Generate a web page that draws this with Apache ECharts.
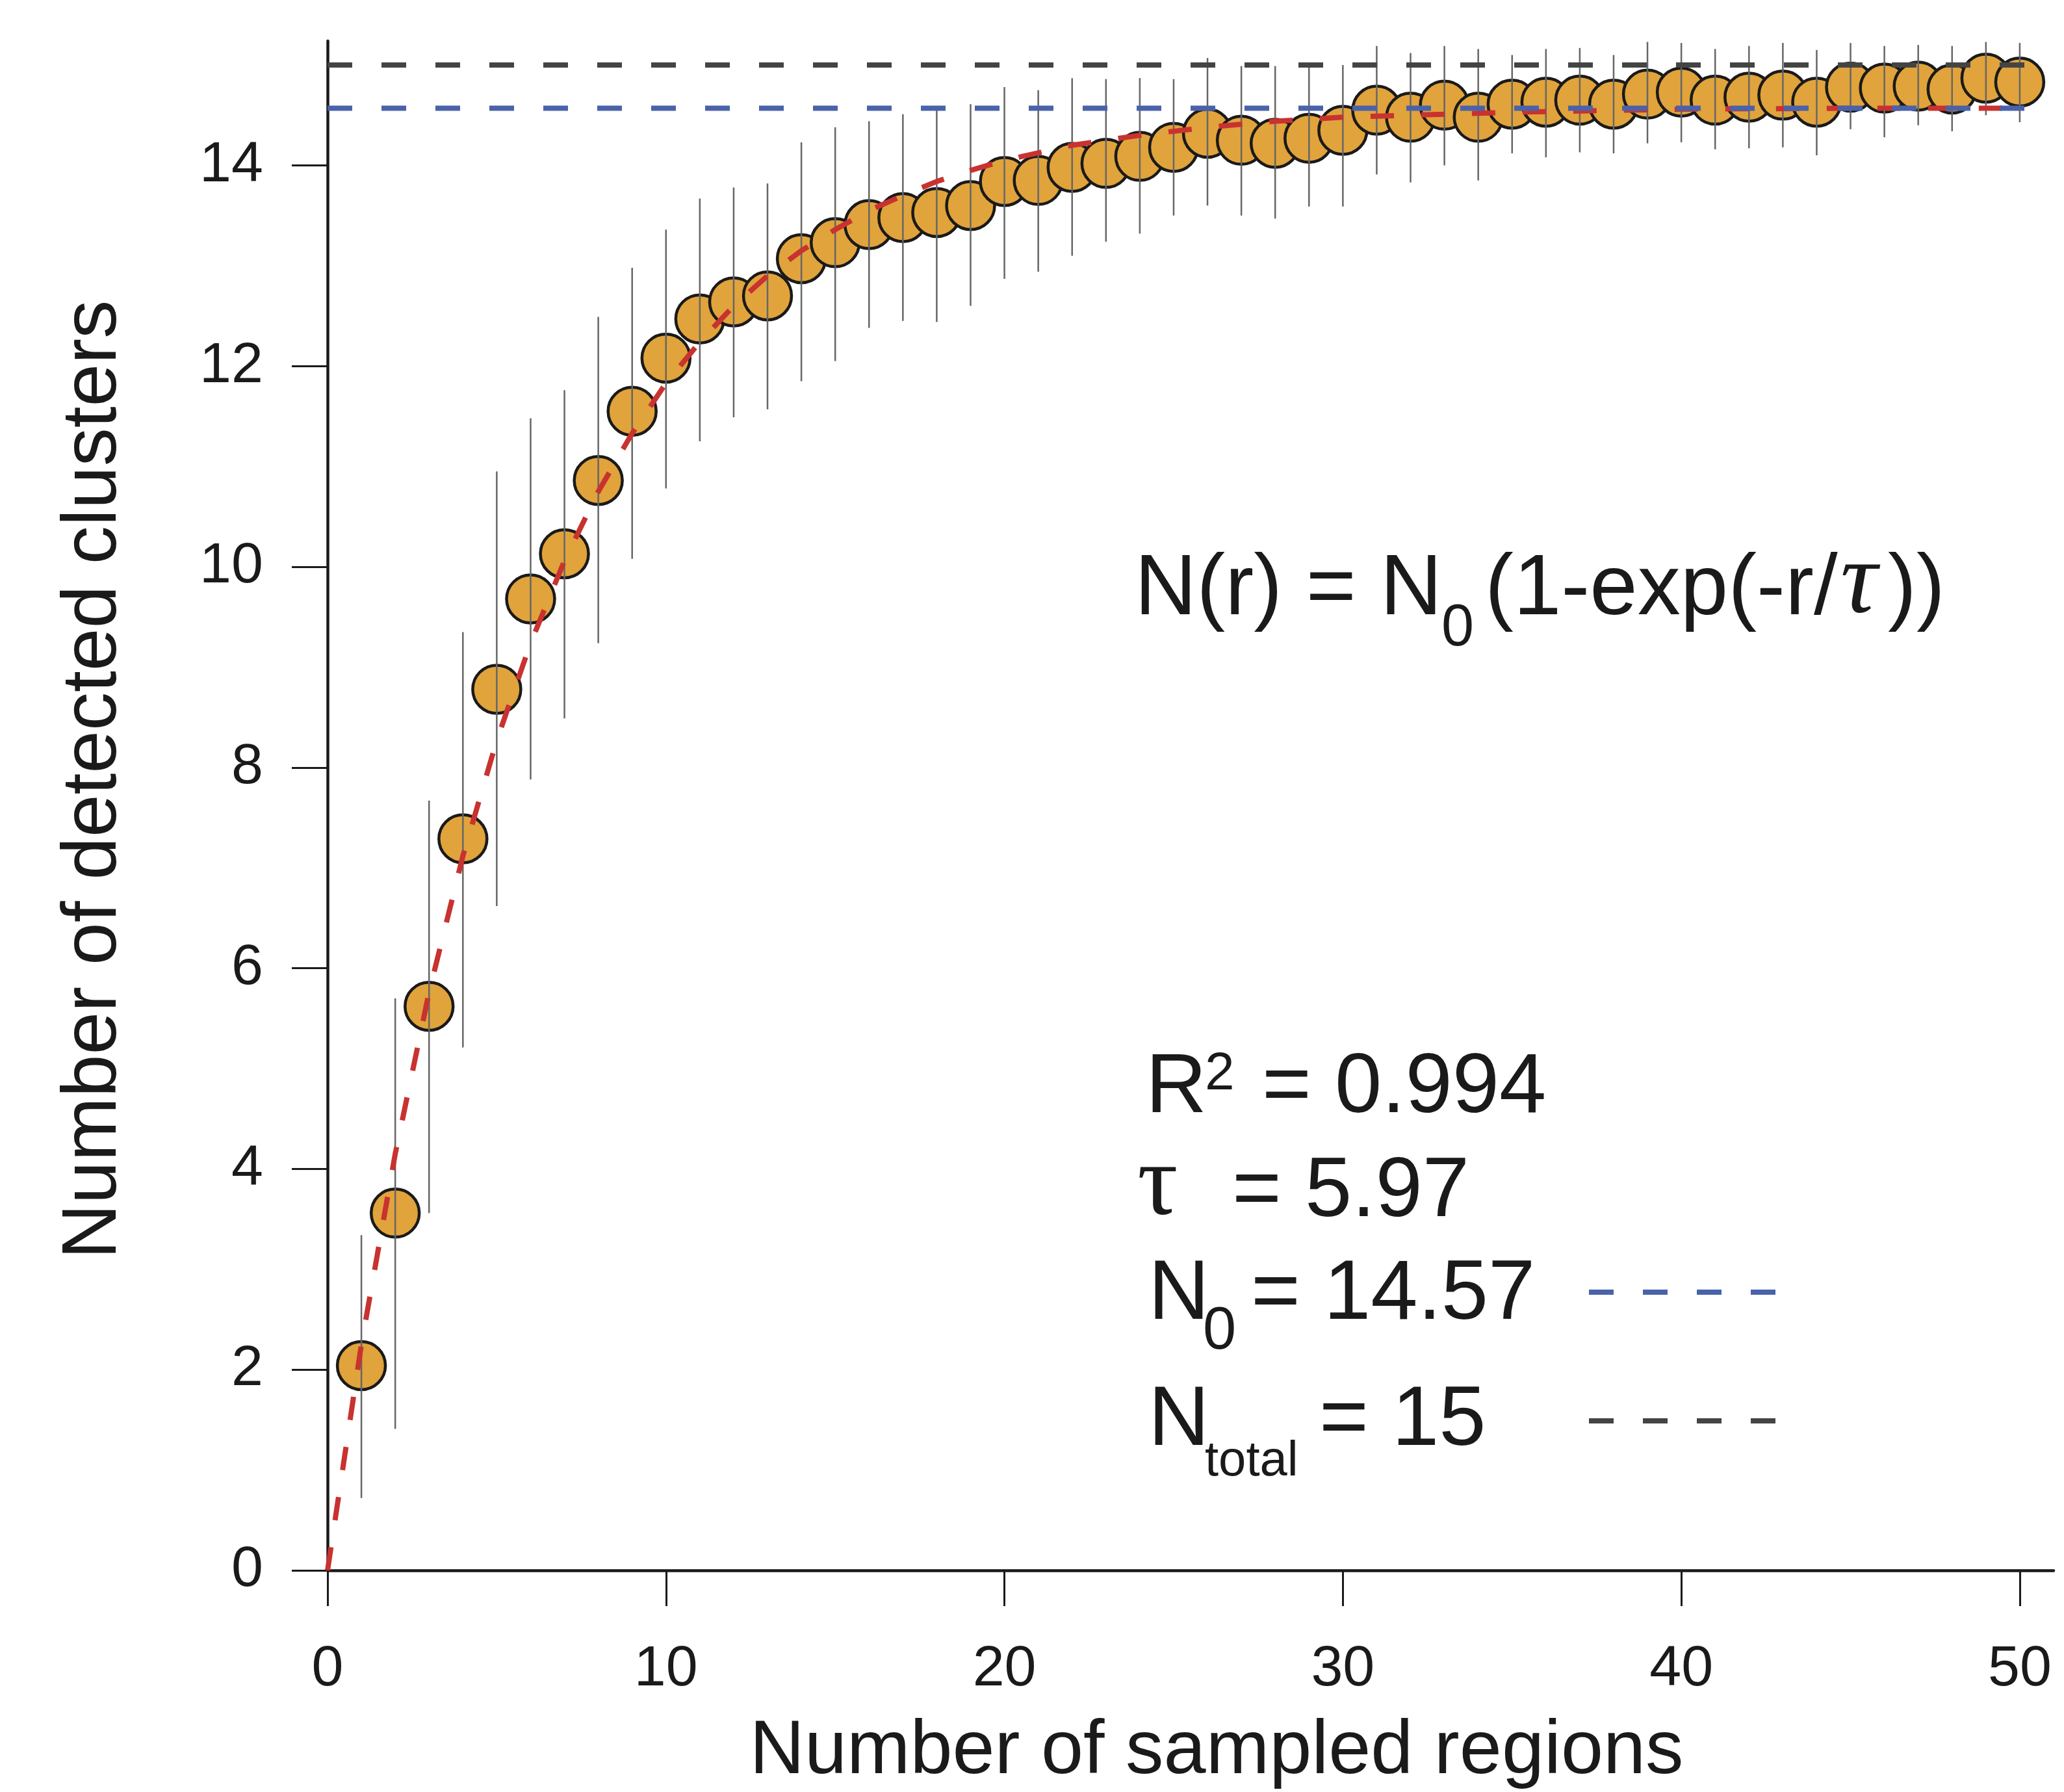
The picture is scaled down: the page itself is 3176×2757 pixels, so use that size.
<!DOCTYPE html>
<html><head><meta charset="utf-8">
<script src="https://cdn.jsdelivr.net/npm/echarts@6/dist/echarts.min.js"></script>
<style>html,body{margin:0;padding:0;background:#fff}#chart{width:3176px;height:2757px}</style>
</head><body><div id="chart"></div>
<script>
// ---------- data ----------
const regions = [1,2,3,4,5,6,7,8,9,10,11,12,13,14,15,16,17,18,19,20,21,22,23,24,25,26,27,28,29,30,31,32,33,34,35,36,37,38,39,40,41,42,43,44,45,46,47,48,49,50];
const meanClusters = [2.04,3.56,5.62,7.29,8.78,9.68,10.13,10.86,11.55,12.08,12.47,12.64,12.70,13.07,13.23,13.41,13.48,13.53,13.60,13.84,13.85,13.98,14.02,14.09,14.18,14.32,14.25,14.22,14.27,14.35,14.55,14.48,14.60,14.48,14.61,14.63,14.65,14.61,14.71,14.73,14.65,14.68,14.70,14.63,14.78,14.77,14.79,14.76,14.87,14.83];
const errUpper = [3.34,5.70,7.67,9.35,10.95,11.48,11.76,12.49,12.98,13.36,13.67,13.78,13.82,14.23,14.38,14.44,14.51,14.55,14.61,14.78,14.75,14.87,14.86,14.87,14.86,15.07,14.99,14.99,14.98,15.00,15.19,15.12,15.19,15.16,15.10,15.16,15.17,15.10,15.23,15.22,15.16,15.19,15.22,15.15,15.22,15.19,15.20,15.19,15.23,15.22];
const errLower = [0.72,1.41,3.56,5.21,6.62,7.88,8.49,9.24,10.08,10.78,11.25,11.49,11.57,11.85,12.05,12.38,12.45,12.44,12.60,12.87,12.94,13.10,13.24,13.32,13.50,13.60,13.50,13.47,13.59,13.59,13.91,13.83,14.00,13.85,14.12,14.08,14.13,14.12,14.22,14.23,14.16,14.17,14.18,14.10,14.36,14.28,14.40,14.34,14.50,14.43];
// fitted curve
const fitR = [0,1,2,3,4,5,6,7,8,9,10,11,12,13,14,15,16,17,18,19,20,22,24,26,28,30,35,40,45,50];
const fitN = [0,2.25,4.15,5.76,7.12,8.27,9.24,10.06,10.75,11.33,11.83,12.24,12.60,12.90,13.15,13.36,13.55,13.70,13.84,13.95,14.05,14.20,14.30,14.38,14.44,14.48,14.53,14.56,14.57,14.57];
const N0 = 14.57;
const Ntotal = 15;
const xTicks = [0,10,20,30,40,50];
const yTicks = [0,2,4,6,8,10,12,14];
const xTitle = 'Number of sampled regions';
const yTitle = 'Number of detected clusters';

// ---------- chart ----------
const FONT = 'Liberation Sans, Arial, Helvetica, sans-serif';
const SERIF = 'Liberation Serif, DejaVu Serif, serif';
const INK = '#1a1a1a';
const K = 0.33; // baseline offset for middle alignment

function txt(x, baseline, text, fs, extra) {
  extra = extra || {};
  return {
    type: 'text', x: x, y: baseline - K * fs, z: 100,
    style: Object.assign({
      text: text, fontSize: fs, fontFamily: FONT, fill: INK,
      align: 'left', verticalAlign: 'middle'
    }, extra)
  };
}

const chart = echarts.init(document.getElementById('chart'), null, {renderer: 'canvas'});

const scatterData = regions.map((r, i) => [r, meanClusters[i]]);
const errData = regions.map((r, i) => [r, errLower[i], errUpper[i]]);
const fitData = fitR.map((r, i) => [r, fitN[i]]);

const graphics = [
  // formula
  txt(1746, 952, 'N(r) = N', 132),
  txt(2218, 998, '0', 90),
  txt(2285, 952, '(1-exp(-r/', 132),
  txt(2832, 952, 'τ', 158, {fontFamily: SERIF, fontStyle: 'italic'}),
  txt(2905, 952, '))', 132),
  // stats
  txt(1763, 1718, 'R', 130),
  txt(1854, 1680, '2', 82),
  txt(1942, 1718, '= 0.994', 130),
  txt(1750, 1878, 'τ', 156, {fontFamily: SERIF}),
  txt(1896, 1878, '= 5.97', 130),
  txt(1767, 2036, 'N', 130),
  txt(1851, 2080, '0', 92),
  txt(1925, 2036, '= 14.57', 130),
  txt(1767, 2230, 'N', 130),
  txt(1854, 2274, 'total', 76),
  txt(2030, 2230, '= 15', 130),
  // legend keys
  {type: 'line', z: 100, shape: {x1: 2445, y1: 1988, x2: 2736, y2: 1988},
   style: {stroke: '#4A62AA', lineWidth: 8, lineDash: [38, 45]}},
  {type: 'line', z: 100, shape: {x1: 2445, y1: 2186, x2: 2736, y2: 2186},
   style: {stroke: '#444444', lineWidth: 8, lineDash: [38, 45]}}
];

const option = {
  animation: false,
  backgroundColor: '#ffffff',
  grid: {left: 504, right: 16, top: 63, bottom: 341, containLabel: false, outerBoundsMode: 'none'},
  xAxis: {
    type: 'value', min: 0, max: 51, interval: 10,
    name: xTitle, nameLocation: 'middle', nameGap: 221,
    nameTextStyle: {fontSize: 117, fontFamily: FONT, color: INK, padding: [0, 0, 0, 80]},
    axisLine: {show: true, onZero: false, lineStyle: {color: INK, width: 4.5}},
    axisTick: {show: true, inside: false, length: 55, customValues: xTicks, lineStyle: {color: INK, width: 3}},
    axisLabel: {customValues: xTicks, margin: 109, fontSize: 88, fontFamily: FONT, color: INK},
    splitLine: {show: false}
  },
  yAxis: {
    type: 'value', min: 0, max: 15.24, interval: 2,
    name: yTitle, nameLocation: 'middle', nameGap: 300,
    nameTextStyle: {fontSize: 118, fontFamily: FONT, color: INK, padding: [0, 0, 0, 80]},
    axisLine: {show: true, onZero: false, lineStyle: {color: INK, width: 4.5}},
    axisTick: {show: true, inside: false, length: 55, customValues: yTicks, lineStyle: {color: INK, width: 3}},
    axisLabel: {customValues: yTicks, margin: 99, fontSize: 88, fontFamily: FONT, color: INK},
    splitLine: {show: false}
  },
  graphic: graphics,
  series: [
    {
      type: 'scatter', name: 'mean', data: scatterData, z: 2,
      symbol: 'circle', symbolSize: 74, clip: false,
      itemStyle: {color: '#E1A33B', borderColor: INK, borderWidth: 4.5, opacity: 1}
    },
    {
      type: 'custom', name: 'sd', data: errData, z: 3, clip: false,
      encode: {x: 0, y: [1, 2]},
      renderItem: function (params, api) {
        const p1 = api.coord([api.value(0), api.value(1)]);
        const p2 = api.coord([api.value(0), api.value(2)]);
        return {type: 'line', shape: {x1: p1[0], y1: p1[1], x2: p2[0], y2: p2[1]},
                style: {stroke: '#666666', lineWidth: 2.5}};
      }
    },
    {
      type: 'line', name: 'fit', data: fitData, z: 4,
      smooth: false, showSymbol: false, symbol: 'none',
      lineStyle: {color: '#C8322F', width: 8, type: [36, 42]}
    },
    {
      type: 'line', name: 'N0', data: [[0, N0], [51, N0]], z: 5,
      showSymbol: false, symbol: 'none',
      lineStyle: {color: '#4A62AA', width: 8, type: [38, 45]}
    },
    {
      type: 'line', name: 'Ntotal', data: [[0, Ntotal], [51, Ntotal]], z: 5,
      showSymbol: false, symbol: 'none',
      lineStyle: {color: '#444444', width: 8, type: [38, 45]}
    }
  ]
};
chart.setOption(option);
</script>
</body></html>
